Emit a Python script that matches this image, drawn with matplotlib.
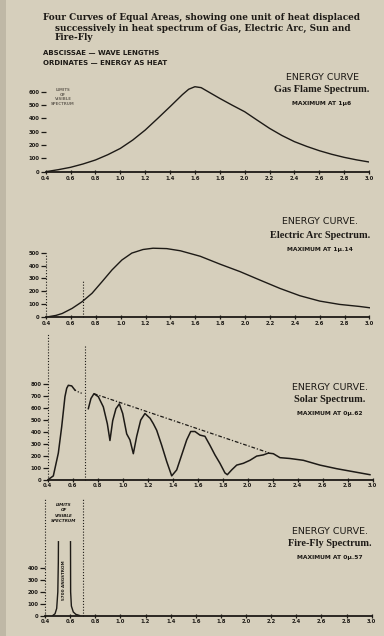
import matplotlib
matplotlib.use('Agg')
import matplotlib.pyplot as plt
from matplotlib.patches import Rectangle

W, H = 384, 636
BG = '#d6cfbc'
INK = '#1d1a16'

# ---------------- data ----------------
x_ticks = [0.4, 0.6, 0.8, 1.0, 1.2, 1.4, 1.6, 1.8, 2.0, 2.2, 2.4, 2.6, 2.8, 3.0]
x_tick_labels = ['0.4', '0.6', '0.8', '1.0', '1.2', '1.4', '1.6', '1.8', '2.0',
                 '2.2', '2.4', '2.6', '2.8', '3.0']

gas_yticks = [0, 100, 200, 300, 400, 500, 600]
arc_yticks = [0, 100, 200, 300, 400, 500]
solar_yticks = [0, 100, 200, 300, 400, 500, 600, 700, 800]
fly_yticks = [0, 100, 200, 300, 400]

gas_wl = [0.4, 0.5, 0.6, 0.7, 0.8, 0.9, 1.0, 1.1, 1.2, 1.3, 1.4, 1.5, 1.55, 1.6,
          1.65, 1.7, 1.8, 1.9, 2.0, 2.1, 2.2, 2.3, 2.4, 2.5, 2.6, 2.7, 2.8, 2.9, 3.0]
gas_energy = [0, 15, 33, 58, 88, 128, 175, 238, 313, 400, 489, 580, 620, 639,
              632, 605, 551, 500, 451, 388, 326, 272, 226, 190, 158, 131, 108, 89, 73]

arc_wl = [0.42, 0.48, 0.53, 0.61, 0.69, 0.77, 0.85, 0.93, 1.01, 1.09, 1.18, 1.26,
          1.37, 1.48, 1.64, 1.80, 1.96, 2.12, 2.28, 2.44, 2.60, 2.76, 2.92, 3.0]
arc_energy = [0, 10, 25, 65, 117, 183, 273, 365, 443, 497, 525, 535,
              532, 515, 472, 410, 352, 286, 221, 164, 122, 96, 80, 70]

solar_vis_wl = [0.405, 0.445, 0.485, 0.512, 0.538, 0.552, 0.565, 0.592, 0.618]
solar_vis_energy = [0, 30, 220, 440, 690, 760, 785, 780, 745]
solar_gap_wl = [0.618, 0.645, 0.68]
solar_gap_energy = [745, 730, 715]
solar_ir_wl = [0.725, 0.746, 0.77, 0.805, 0.845, 0.877, 0.898, 0.92, 0.946, 0.973,
               1.0, 1.032, 1.058, 1.085, 1.112, 1.144, 1.178, 1.219, 1.245, 1.272,
               1.312, 1.352, 1.392, 1.432, 1.472, 1.512, 1.544, 1.578, 1.618, 1.658,
               1.698, 1.738, 1.778, 1.818, 1.837, 1.872, 1.912, 1.965, 2.018, 2.072,
               2.125, 2.165, 2.205, 2.258, 2.338, 2.445, 2.578, 2.712, 2.845, 2.978]
solar_ir_energy = [590, 675, 715, 690, 605, 465, 325, 490, 590, 630,
                   550, 380, 330, 215, 360, 495, 550, 510, 465, 410,
                   285, 150, 30, 80, 205, 330, 400, 400, 370, 360,
                   285, 205, 135, 55, 40, 80, 120, 135, 160, 195,
                   205, 220, 215, 182, 175, 160, 120, 90, 65, 40]
solar_env_wl = [0.77, 2.17]
solar_env_energy = [715, 222]

fly_rise_wl = [0.462, 0.48, 0.493, 0.502, 0.506, 0.507]
fly_rise_energy = [0, 15, 60, 200, 450, 625]
fly_fall_wl = [0.603, 0.604, 0.61, 0.625, 0.645, 0.675]
fly_fall_energy = [625, 200, 80, 30, 10, 0]

visible_limits = [0.4, 0.7]

# ---------------- figure ----------------
fig = plt.figure(figsize=(W / 100, H / 100), dpi=100, facecolor=BG)
fig.patches.append(Rectangle((0, 0), 6 / W, 1, transform=fig.transFigure,
                             facecolor='#bfb8a6', edgecolor='none', zorder=0))


def px_axes(x0, x1, y0, ylo, yhi, ppu):
    """x0,x1: pixel of 0.4 and 3.0; y0: pixel row of zero; ppu: px per 100."""
    top = y0 - (yhi - ylo) / 100 * ppu
    ax = fig.add_axes([x0 / W, 1 - y0 / H, (x1 - x0) / W, (y0 - top) / H])
    ax.set_xlim(0.4, 3.0)
    ax.set_ylim(ylo, yhi)
    ax.set_facecolor('none')
    for s in ['top', 'right', 'left']:
        ax.spines[s].set_visible(False)
    ax.spines['bottom'].set_linewidth(1.3)
    ax.spines['bottom'].set_color(INK)
    ax.spines['bottom'].set_clip_on(False)
    ax.set_xticks(x_ticks)
    ax.set_xticklabels(x_tick_labels, fontsize=3.8, fontweight='bold', color=INK)
    ax.tick_params(axis='x', direction='inout', length=2.5, width=0.9, pad=1.5, colors=INK)
    ax.tick_params(axis='y', direction='out', length=3.5, width=0.9, pad=1.0, colors=INK,
                   labelsize=3.8)
    return ax


def ft(x, y, s, **kw):
    kw.setdefault('color', INK)
    kw.setdefault('va', 'center')
    fig.text(x / W, 1 - y / H, s, **kw)


LW = 1.0
DOT = dict(color=INK, lw=0.8, ls=(0, (1, 1.6)), clip_on=False)

# Panel 1: gas flame
ax1 = px_axes(45.7, 369, 171.7, 0, 700, 13.3)
ax1.set_yticks(gas_yticks)
ax1.set_yticklabels([str(v) for v in gas_yticks], fontweight='bold')
ax1.plot(gas_wl, gas_energy, color=INK, lw=LW)

# Panel 2: electric arc
ax2 = px_axes(46, 369.5, 316.7, 0, 600, 12.8)
ax2.set_yticks(arc_yticks)
ax2.set_yticklabels([str(v) for v in arc_yticks], fontweight='bold')
ax2.plot(arc_wl, arc_energy, color=INK, lw=LW)
ax2.plot([visible_limits[0]] * 2, [0, 500], **DOT)
ax2.plot([visible_limits[1]] * 2, [0, 280], **DOT)

# Panel 3: solar
ax3 = px_axes(47.7, 372.7, 479.5, 0, 900, 12.0)
ax3.set_yticks(solar_yticks)
ax3.set_yticklabels([str(v) for v in solar_yticks], fontweight='bold')
ax3.plot(solar_vis_wl, solar_vis_energy, color=INK, lw=1.1)
ax3.plot(solar_gap_wl, solar_gap_energy, color=INK, lw=0.9, ls=(0, (1, 1.5)))
ax3.plot(solar_ir_wl, solar_ir_energy, color=INK, lw=1.1)
ax3.plot(solar_env_wl, solar_env_energy, color=INK, lw=0.9, ls=(0, (3, 1.5, 1, 1.5)))
ax3.plot([visible_limits[0]] * 2, [0, 1220], **DOT)
ax3.plot([visible_limits[1]] * 2, [0, 1120], **DOT)

# Panel 4: fire-fly
ax4 = px_axes(45, 371.7, 615.5, 0, 700, 11.8)
ax4.set_yticks(fly_yticks)
ax4.set_yticklabels([str(v) for v in fly_yticks], fontweight='bold')
ax4.plot(fly_rise_wl, fly_rise_energy, color=INK, lw=LW)
ax4.plot(fly_fall_wl, fly_fall_energy, color=INK, lw=LW)
ax4.plot([visible_limits[0]] * 2, [0, 996], **DOT)
ax4.plot([visible_limits[1]] * 2, [0, 990], **DOT)
ax4.text(0.555, 300, '5700 ANGSTROM', rotation=90, fontsize=3.0, fontweight='bold',
         color=INK, ha='center', va='center')
ax4.text(0.55, 870, 'LIMITS\nOF\nVISIBLE\nSPECTRUM', fontsize=3.0, fontweight='bold',
         style='italic', color=INK, ha='center', va='center', linespacing=1.5)

# ---------------- text ----------------
SERIF = ['DejaVu Serif']
SERIF2 = ['Liberation Serif', 'DejaVu Serif']
ft(43, 17, 'Four Curves of Equal Areas, showing one unit of heat displaced',
   fontsize=6.4, family=SERIF, fontweight='bold')
ft(55, 28, 'successively in heat spectrum of Gas, Electric Arc, Sun and',
   fontsize=6.4, family=SERIF, fontweight='bold')
ft(55, 38, 'Fire-Fly', fontsize=6.4, family=SERIF, fontweight='bold')
ft(43, 53, 'ABSCISSAE \u2014 WAVE LENGTHS', fontsize=5.0, fontweight='bold')
ft(43, 63, 'ORDINATES \u2014 ENERGY AS HEAT', fontsize=5.0, fontweight='bold')

ft(63, 97, 'LIMITS\nOF\nVISIBLE\nSPECTRUM', fontsize=2.8, fontweight='bold', color='#6d675c',
   ha='center', linespacing=1.3)

panel_text = [
    (322, 78, 90, 104, 'ENERGY CURVE', 'Gas Flame Spectrum.', 'MAXIMUM AT 1\u03bc6'),
    (320, 222, 235, 249, 'ENERGY CURVE.', 'Electric Arc Spectrum.', 'MAXIMUM AT 1\u03bc.14'),
    (330, 387, 400, 413, 'ENERGY CURVE.', 'Solar Spectrum.', 'MAXIMUM AT 0\u03bc.62'),
    (330, 531, 544, 558, 'ENERGY CURVE.', 'Fire-Fly Spectrum.', 'MAXIMUM AT 0\u03bc.57'),
]
for cx, y1, y2, y3, t1, t2, t3 in panel_text:
    ft(cx, y1, t1, fontsize=6.8, ha='center')
    ft(cx, y2, t2, fontsize=7.4, family=SERIF2, fontweight='bold', ha='center')
    ft(cx, y3, t3, fontsize=4.3, fontweight='bold', ha='center')

fig.savefig('out.png', dpi=100, facecolor=BG)
